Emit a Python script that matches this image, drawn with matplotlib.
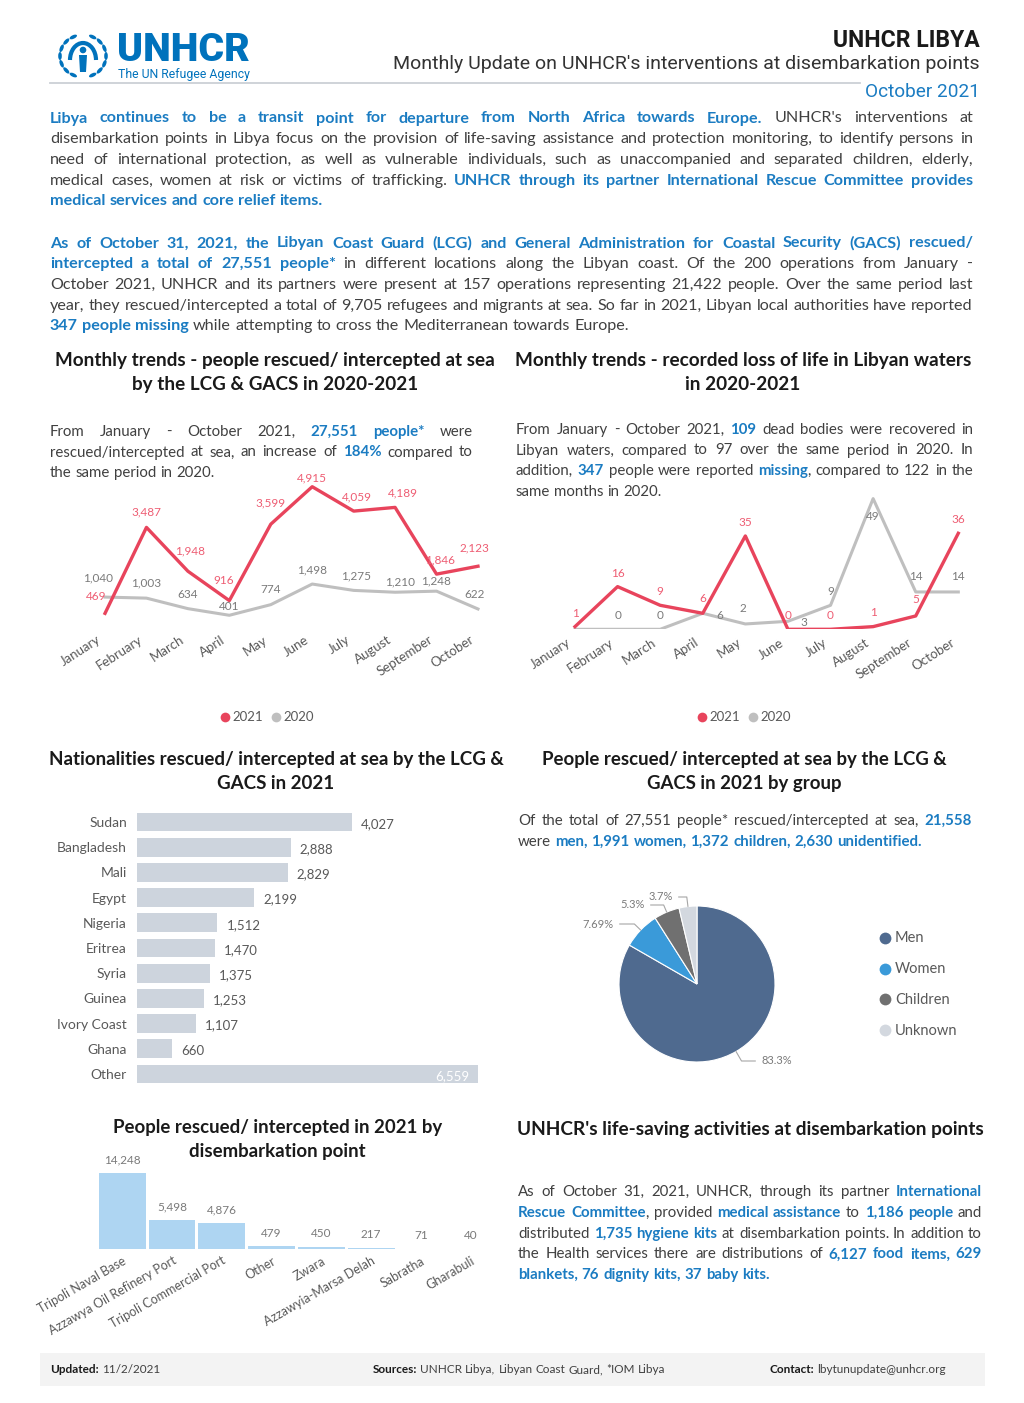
import matplotlib
matplotlib.use('Agg')
import matplotlib.pyplot as plt
import matplotlib.transforms as mtrans
from matplotlib.patches import Rectangle, Arc, Polygon, Ellipse, Circle
import numpy as np

W, H = 1024, 1403

# ---- data ----
months = ['January', 'February', 'March', 'April', 'May', 'June',
          'July', 'August', 'September', 'October']
rescued_2021 = [469, 3487, 1948, 916, 3599, 4915, 4059, 4189, 1846, 2123]
rescued_2020 = [1040, 1003, 634, 401, 774, 1498, 1275, 1210, 1248, 622]
deaths_2021 = [1, 16, 9, 6, 35, 0, 0, 1, 5, 36]
deaths_2020 = [0, 0, 0, 6, 2, 3, 9, 49, 14, 14]

nationalities = ['Sudan', 'Bangladesh', 'Mali', 'Egypt', 'Nigeria', 'Eritrea',
                 'Syria', 'Guinea', 'Ivory Coast', 'Ghana', 'Other']
nat_counts = [4027, 2888, 2829, 2199, 1512, 1470, 1375, 1253, 1107, 660, 6559]

groups = ['Men', 'Women', 'Children', 'Unknown']
group_share = [83.3, 7.69, 5.3, 3.7]
group_labels = ['83.3%', '7.69%', '5.3%', '3.7%']

points = ['Tripoli Naval Base', 'Azzawya Oil Refinery Port', 'Tripoli Commercial Port',
          'Other', 'Zwara', 'Azzawyia-Marsa Delah', 'Sabratha', 'Gharabuli']
point_counts = [14248, 5498, 4876, 479, 450, 217, 71, 40]

# label offsets (pixels) for the line charts
off_r21 = [(-9, 17), (0, 15), (2, 20), (-6, 20), (0, 21), (0, 9), (3, 14), (8, 14), (4, 14), (-4, 18)]
off_r20 = [(-7, 19), (0, 15), (0, 14), (0, 9), (0, 15), (0, 14), (2, 14), (5, 10), (-1, 10), (-3, 14)]
off_d21 = [(1, 13), (0, 13), (0, 14), (0, 15), (0, 13), (0, 14), (0, 14), (0, 14), (0, 16), (0, 14)]
off_d20 = [None, (0, 14), (0, 14), (17, -2), (-2, 15), (16, -1), (0, 14), (0, -18), (0, 15), (0, 15)]

# ---- style ----
FONT = ['Lato', 'DejaVu Sans']
ROBOTO = ['Roboto', 'DejaVu Sans']
plt.rcParams['font.family'] = FONT
BLUE = '#1b7cc2'
LOGO = '#0072bc'
TXT = '#404040'
HEAD = '#1a1a1a'
LAB = '#595959'
RED = '#e8445c'
RED_T = '#ee5d73'
GREY = '#bfbfbf'
GREY_T = '#7a7a7a'

fig = plt.figure(figsize=(W / 100, H / 100), dpi=100)
bg = fig.add_axes([0, 0, 1, 1])
bg.set_xlim(0, W)
bg.set_ylim(H, 0)
bg.axis('off')
renderer = fig.canvas.get_renderer()


def rect(l, t, r, b):
    return [l / W, 1 - b / H, (r - l) / W, (b - t) / H]


_cache = {}


def tw(s, size, bold=False, family=FONT):
    key = (s, round(size, 3), bold, tuple(family))
    if key not in _cache:
        t = bg.text(0, 0, s, fontsize=size, fontweight='bold' if bold else 'normal', family=family)
        _cache[key] = t.get_window_extent(renderer).width
        t.remove()
    return _cache[key]


STYLE = {0: (False, TXT), 1: (True, BLUE), 2: (True, HEAD)}


def line(x0, y, width, segs, size, justify=False):
    # segs: list of (text, style) ; style 0 normal, 1 bold blue, 2 bold dark
    words = []
    join = False
    for text, st in segs:
        parts = text.split(' ')
        for i, p in enumerate(parts):
            if i > 0:
                join = False
            if p == '':
                continue
            if join and words:
                words[-1].append((p, st))
            else:
                words.append([(p, st)])
            join = True
    for _ in range(3):
        ww = [sum(tw(p, size, STYLE[st][0]) for p, st in w) for w in words]
        sp = tw('a a', size) - tw('aa', size)
        nat = sum(ww) + sp * (len(words) - 1)
        if nat <= width:
            break
        size *= width / nat * 0.995
    if justify and len(words) > 1:
        gap = (width - sum(ww)) / (len(words) - 1)
    else:
        gap = sp
    x = x0
    for w, wd in zip(words, ww):
        xx = x
        for p, st in w:
            bold, col = STYLE[st]
            bg.text(xx, y, p, fontsize=size, fontweight='bold' if bold else 'normal',
                    color=col, va='baseline', ha='left')
            xx += tw(p, size, bold)
        x += wd + gap


def para(x0, y0, width, lines, size, lh):
    for i, segs in enumerate(lines):
        line(x0, y0 + i * lh, width, segs, size, justify=(i < len(lines) - 1))


def fit(x, y, s, size, maxw, ha='center', bold=True, color=HEAD, family=FONT, exact=False, weight=None):
    w = tw(s, size, bold, family)
    if w > maxw or exact:
        size *= maxw / w
    bg.text(x, y, s, fontsize=size, fontweight=weight or ('bold' if bold else 'normal'),
            ha=ha, va='baseline', color=color, family=family)


def heading(x, y, s1, s2, w1):
    # first line scaled to its width in the reference, second line at same size
    size = 12 * w1 / tw(s1, 12, True)
    bg.text(x, y, s1, fontsize=size, fontweight='bold', ha='center', va='baseline', color=HEAD)
    if s2:
        bg.text(x, y + 24, s2, fontsize=size, fontweight='bold', ha='center', va='baseline', color=HEAD)


def shift_labels(ax, dx):
    off = mtrans.ScaledTranslation(dx / 72, 0, fig.dpi_scale_trans)
    for lab in ax.get_xticklabels():
        lab.set_transform(lab.get_transform() + off)


# ---- header ----
cx, cy = 83, 56
for side in (-1, 1):
    for a in np.linspace(115, 245, 7):
        r = np.radians(a)
        lx = cx - 23 * np.cos(r) if side == 1 else cx + 23 * np.cos(r)
        ly = cy - 21 * np.sin(r)
        ang = -(a + 90) if side == -1 else (a + 90)
        bg.add_patch(Ellipse((lx, ly), 8, 3.6, angle=ang, color=LOGO, lw=0))
bg.add_patch(Arc((cx, 60), 26, 34, theta1=180, theta2=360, color=LOGO, lw=3))
bg.add_patch(Circle((cx, 50), 3.3, color=LOGO, lw=0))
bg.add_patch(Polygon([(79, 55), (87, 55), (86, 72), (80, 72)], closed=True, color=LOGO, lw=0))
fit(117, 61, 'UNHCR', 24, 133, ha='left', color=LOGO, family=ROBOTO, exact=True, weight='black')
fit(118, 78, 'The UN Refugee Agency', 7.5, 131, ha='left', bold=False, color=LOGO,
    family=ROBOTO, exact=True)

fit(980, 47, 'UNHCR LIBYA', 14, 147, ha='right', color=HEAD, family=ROBOTO, exact=True)
fit(980, 69, "Monthly Update on UNHCR's interventions at disembarkation points", 13, 583, ha='right',
    bold=False, color='#333333', family=ROBOTO, exact=True)
bg.plot([50, 860], [83, 83], color='#cbd0d6', lw=1.3)
fit(980, 97, 'October 2021', 13, 114, ha='right', bold=False, color=BLUE, family=ROBOTO, exact=True)

# ---- intro paragraphs ----
para(50, 122.5, 923, [
    [('Libya continues to be a transit point for departure from North Africa towards Europe.', 1),
     (" UNHCR's interventions at", 0)],
    [('disembarkation points in Libya focus on the provision of life-saving assistance and protection '
      'monitoring, to identify persons in', 0)],
    [('need of international protection, as well as vulnerable individuals, such as unaccompanied and '
      'separated children, elderly,', 0)],
    [('medical cases, women at risk or victims of trafficking.', 0),
     (' UNHCR through its partner International Rescue Committee provides', 1)],
    [('medical services and core relief items.', 1)],
], 11.6, 20.7)

para(50, 247.5, 923, [
    [('As of October 31, 2021, the Libyan Coast Guard (LCG) and General Administration for Coastal '
      'Security (GACS) rescued/', 1)],
    [('intercepted a total of 27,551 people*', 1),
     (' in different locations along the Libyan coast. Of the 200 operations from January -', 0)],
    [('October 2021, UNHCR and its partners were present at 157 operations representing 21,422 people. '
      'Over the same period last', 0)],
    [('year, they rescued/intercepted a total of 9,705 refugees and migrants at sea. So far in 2021, '
      'Libyan local authorities have reported', 0)],
    [('347 people missing', 1), (' while attempting to cross the Mediterranean towards Europe.', 0)],
], 11.6, 20.7)

# ---- section headings ----
heading(275, 366, 'Monthly trends - people rescued/ intercepted at sea', 'by the LCG & GACS in 2020-2021', 436)
heading(743, 366, 'Monthly trends - recorded loss of life in Libyan waters', 'in 2020-2021', 454)

para(50, 436, 423, [
    [('From January - October 2021, ', 0), ('27,551 people*', 1), (' were', 0)],
    [('rescued/intercepted at sea, an increase of ', 0), ('184%', 1), (' compared to', 0)],
    [('the same period in 2020.', 0)],
], 10.8, 20.5)

para(516, 434, 457, [
    [('From January - October 2021, ', 0), ('109', 1), (' dead bodies were recovered in', 0)],
    [('Libyan waters, compared to 97 over the same period in 2020. In', 0)],
    [('addition, ', 0), ('347', 1), (' people were reported ', 0), ('missing', 1),
     (', compared to 122 in the', 0)],
    [('same months in 2020.', 0)],
], 10.8, 20.5)


# ---- line charts ----
def line_chart(box, ymax, s21, s20, o21, o20):
    ax = fig.add_axes(rect(*box))
    x = np.arange(len(months))
    ax.plot(x, s20, color=GREY, lw=2.2, zorder=2)
    ax.plot(x, s21, color=RED, lw=2.4, zorder=3)
    ax.set_xlim(-0.5, len(months) - 0.5)
    ax.set_ylim(0, ymax)
    for xi, v, o in zip(x, s20, o20):
        if o is not None:
            ax.annotate(f'{v:,}', (xi, v), xytext=o, textcoords='offset pixels',
                        ha='center', va='center', fontsize=8.5, color=GREY_T, zorder=4)
    for xi, v, o in zip(x, s21, o21):
        if o is not None:
            ax.annotate(f'{v:,}', (xi, v), xytext=o, textcoords='offset pixels',
                        ha='center', va='center', fontsize=8.5, color=RED_T, zorder=4)
    ax.set_xticks(x)
    ax.set_xticklabels(months, rotation=33, ha='right', rotation_mode='anchor',
                       fontsize=9.5, color=LAB)
    ax.tick_params(length=0, pad=5)
    shift_labels(ax, -6)
    ax.set_yticks([])
    for s in ax.spines.values():
        s.set_visible(False)
    ax.patch.set_alpha(0)
    return ax


line_chart((84.3, 478.6, 498.7, 626.7), 5200, rescued_2021, rescued_2020, off_r21, off_r20)
line_chart((553.7, 482.6, 979.6, 629.3), 55, deaths_2021, deaths_2020, off_d21, off_d20)

for lx in (225, 702):
    bg.plot([lx], [717], 'o', color=RED, ms=7, mec='none')
    bg.text(lx + 7, 721, '2021', fontsize=9.5, color=LAB, va='baseline')
    bg.plot([lx + 51], [717], 'o', color=GREY, ms=7, mec='none')
    bg.text(lx + 58, 721, '2020', fontsize=9.5, color=LAB, va='baseline')

# ---- nationalities ----
heading(276, 765, 'Nationalities rescued/ intercepted at sea by the LCG &', 'GACS in 2021', 453)

NAT_XMAX = 6390
ax3 = fig.add_axes(rect(136.7, 809.4, 477.7, 1086.6))
yy = np.arange(len(nationalities))
ax3.barh(yy, nat_counts, height=0.75, color='#cdd4dd')
ax3.set_ylim(len(nationalities) - 0.5, -0.5)
ax3.set_xlim(0, NAT_XMAX)
ax3.set_yticks(yy)
ax3.set_yticklabels(nationalities, fontsize=10, color=LAB)
ax3.tick_params(length=0, pad=7)
ax3.set_xticks([])
for s in ax3.spines.values():
    s.set_visible(False)
ax3.patch.set_alpha(0)
for yi, v in zip(yy, nat_counts):
    if v > NAT_XMAX:
        ax3.annotate(f'{v:,}', (NAT_XMAX, yi), xytext=(-8, -2), textcoords='offset pixels',
                     ha='right', va='center', fontsize=9.5, color='white')
    else:
        ax3.annotate(f'{v:,}', (v, yi), xytext=(9, -2), textcoords='offset pixels',
                     ha='left', va='center', fontsize=9.5, color=LAB)

# ---- pie by group ----
heading(744.5, 765, 'People rescued/ intercepted at sea by the LCG &', 'GACS in 2021 by group', 403)
para(518, 825, 454, [
    [('Of the total of 27,551 people* rescued/intercepted at sea, ', 0), ('21,558', 1)],
    [('were ', 0), ('men, 1,991 women, 1,372 children, 2,630 unidentified.', 1)],
], 10.8, 20.8)

pie_cols = ['#4f6a8f', '#3a9ad9', '#707070', '#d3d8df']
PC, PR = (697, 984), 80
ax4 = fig.add_axes(rect(PC[0] - PR, PC[1] - PR, PC[0] + PR, PC[1] + PR))
wedges, _ = ax4.pie(group_share, colors=pie_cols, startangle=90, counterclock=False, radius=78 / PR,
                    wedgeprops=dict(edgecolor='white', linewidth=0.8))
ax4.set_xlim(-1, 1)
ax4.set_ylim(-1, 1)
pie_text_px = [(761, 1061, 'left'), (614, 924, 'right'), (645, 905, 'right'), (673, 897, 'right')]
for wdg, lab, (tx, ty, ha) in zip(wedges, group_labels, pie_text_px):
    th = np.radians((wdg.theta1 + wdg.theta2) / 2)
    r = 78 / PR
    ax4.annotate(lab, (r * np.cos(th), r * np.sin(th)),
                 xytext=((tx - PC[0]) / PR, (PC[1] - ty) / PR),
                 ha=ha, va='center', fontsize=8, color=GREY_T, annotation_clip=False,
                 arrowprops=dict(arrowstyle='-', color='#a6a6a6', lw=0.8, shrinkA=2, shrinkB=0,
                                 relpos=(0, 0.5) if ha == 'left' else (1, 0.5),
                                 connectionstyle=f'angle,angleA=0,angleB={np.degrees(th):.0f},rad=0'))

for i, (g, c) in enumerate(zip(groups, pie_cols)):
    gy = 938 + i * 30.7
    bg.plot([885], [gy], 'o', color=c, ms=8.5, mec='none')
    bg.text(895, gy + 4.5, g, fontsize=10.5, color=LAB, va='baseline')

# ---- disembarkation points ----
heading(277.5, 1133, 'People rescued/ intercepted in 2021 by', 'disembarkation point', 327)

ax5 = fig.add_axes(rect(97.3, 1164, 495.7, 1249))
xp = np.arange(len(points))
ax5.bar(xp, point_counts, width=0.94, color='#aed5f2')
ax5.set_xlim(-0.5, len(points) - 0.5)
ax5.set_ylim(0, 16000)
for xi, v in zip(xp, point_counts):
    ax5.annotate(f'{v:,}', (xi, v), xytext=(0, 13), textcoords='offset pixels',
                 ha='center', va='center', fontsize=8.5, color=GREY_T)
ax5.set_xticks(xp)
ax5.set_xticklabels(points, rotation=30, ha='right', rotation_mode='anchor', fontsize=9, color=LAB)
ax5.tick_params(length=0, pad=4)
ax5.set_yticks([])
for s in ax5.spines.values():
    s.set_visible(False)
ax5.patch.set_alpha(0)

# ---- life-saving activities ----
heading(750.5, 1135, "UNHCR's life-saving activities at disembarkation points", None, 463)
para(518, 1196, 464, [
    [('As of October 31, 2021, UNHCR, through its partner ', 0), ('International', 1)],
    [('Rescue Committee', 1), (', provided ', 0), ('medical assistance', 1), (' to ', 0),
     ('1,186 people', 1), (' and', 0)],
    [('distributed ', 0), ('1,735 hygiene kits', 1), (' at disembarkation points. In addition to', 0)],
    [('the Health services there are distributions of ', 0), ('6,127 food items, 629', 1)],
    [('blankets, 76 dignity kits, 37 baby kits.', 1)],
], 10.8, 20.8)

# ---- footer ----
bg.add_patch(Rectangle((40, 1353), 945, 33, color='#f3f3f3', zorder=0, lw=0))
line(50, 1373, 300, [('Updated:', 2), (' 11/2/2021', 0)], 8.5)
line(373, 1373, 400, [('Sources:', 2), (' UNHCR Libya, Libyan Coast Guard, *IOM Libya', 0)], 8.5)
line(770, 1373, 220, [('Contact:', 2), (' lbytunupdate@unhcr.org', 0)], 8.5)

fig.savefig('out.png', dpi=100)
